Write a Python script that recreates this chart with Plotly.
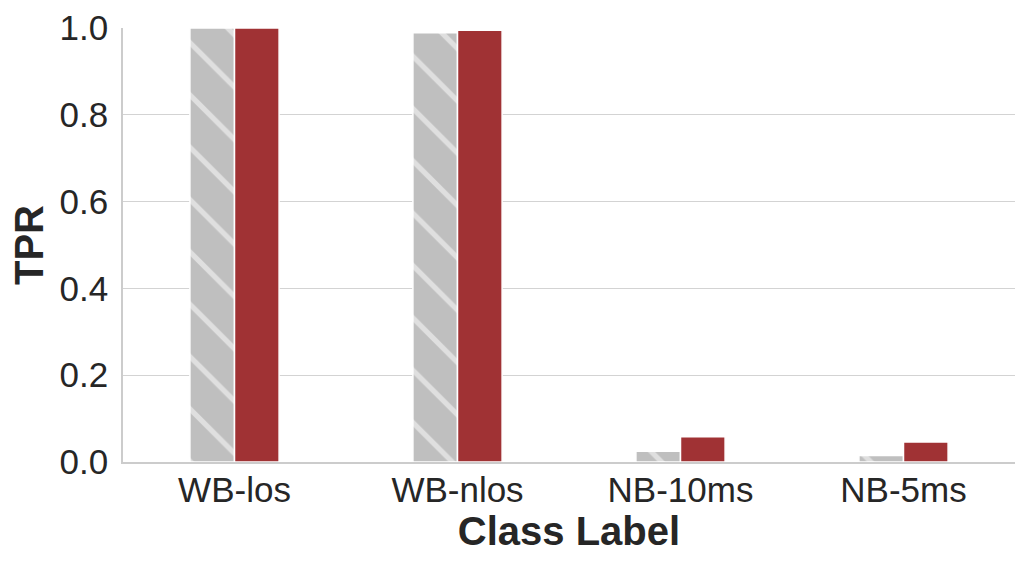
import plotly.graph_objects as go

categories = ["WB-los", "WB-nlos", "NB-10ms", "NB-5ms"]
grey_values = [1.0, 0.989, 0.025, 0.015]
red_values = [1.0, 0.995, 0.058, 0.046]
y_ticks = [0.0, 0.2, 0.4, 0.6, 0.8, 1.0]

fig = go.Figure()
fig.add_trace(go.Bar(
    x=categories, y=grey_values, name="A",
    marker=dict(color="#bfbfbf", line=dict(color="white", width=1.5),
                pattern=dict(shape="\\", fgcolor="white", bgcolor="#bfbfbf",
                             size=37, solidity=0.14)),
))
fig.add_trace(go.Bar(
    x=categories, y=red_values, name="B",
    marker=dict(color="#a03234", line=dict(color="white", width=1.5)),
))

font_family = "Liberation Sans, Arial, sans-serif"
# page body has an 8px default margin; the figure is sized/offset to compensate
fig.update_layout(
    width=1021, height=559,
    margin=dict(l=115, r=14, t=20, b=105, autoexpand=False),
    paper_bgcolor="white", plot_bgcolor="white",
    barmode="group", bargap=0.6, bargroupgap=0.0,
    showlegend=False,
    font=dict(family=font_family, color="#262626"),
    xaxis=dict(
        range=[-0.5, 3.5], showgrid=False, showline=True, linecolor="#cccccc",
        linewidth=1.5, ticks="", tickfont=dict(size=35, color="#262626"),
        automargin=False, ticklabelstandoff=-4,
        title=dict(text="<b>Class Label</b>", font=dict(size=40, color="#262626"), standoff=2),
    ),
    yaxis=dict(
        range=[0, 1.0], tickvals=y_ticks, ticktext=[f"{v:.1f}" for v in y_ticks],
        showgrid=True, gridcolor="#d3d3d3", gridwidth=1.2, zeroline=False,
        showline=True, linecolor="#cccccc", linewidth=1.5, ticks="",
        tickfont=dict(size=35, color="#262626"), automargin=False,
        ticklabelstandoff=6,
    ),
    annotations=[dict(
        text="<b>TPR</b>", textangle=-90, xref="paper", yref="paper",
        x=0, y=0.5, xanchor="center", yanchor="middle", xshift=-94,
        showarrow=False, font=dict(size=40, color="#262626"),
    )],
)

fig.write_html("out.html")
